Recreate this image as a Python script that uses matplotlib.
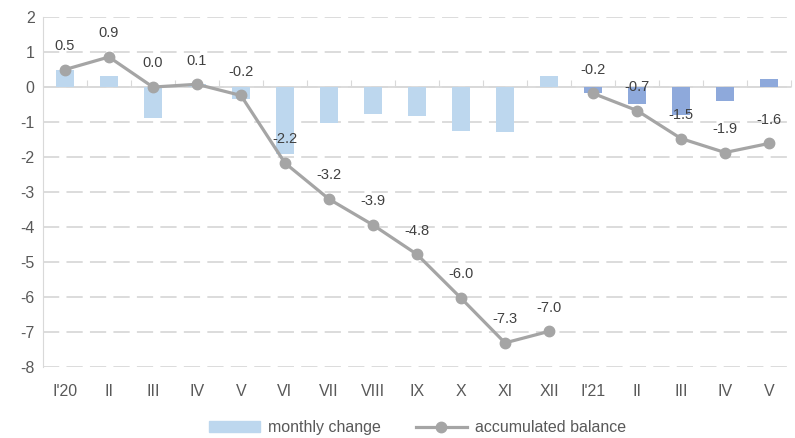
import numpy as np
import matplotlib.pyplot as plt
from matplotlib.lines import Line2D
from matplotlib.patches import Patch

plt.rcParams['font.family'] = ['Liberation Sans Narrow', 'Liberation Sans', 'DejaVu Sans']
plt.rcParams['axes.unicode_minus'] = False

months = ["I'20", "II", "III", "IV", "V", "VI", "VII", "VIII", "IX", "X", "XI", "XII",
          "I'21", "II", "III", "IV", "V"]
monthly_change = [0.49, 0.33, -0.87, 0.08, -0.33, -1.92, -1.04, -0.78, -0.84, -1.25,
                  -1.28, 0.33, -0.18, -0.49, -0.79, -0.39, 0.22]
balance_2020 = [0.5, 0.86, 0.0, 0.08, -0.24, -2.17, -3.2, -3.94, -4.78, -6.03, -7.31, -6.98]
balance_2021 = [-0.18, -0.67, -1.47, -1.87, -1.61]

light_blue = '#BDD7EE'
dark_blue = '#8EA9DB'
line_grey = '#A5A5A5'
text_grey = '#595959'

fig = plt.figure(figsize=(7.95, 4.38), dpi=100)
ax = fig.add_axes([0.054, 0.162, 0.941, 0.799])

x = np.arange(len(months))
colors = [light_blue] * 12 + [dark_blue] * 5
ax.bar(x, monthly_change, width=0.4, color=colors, zorder=2)

x20 = x[:12]
x21 = x[12:]
for xs, ys in [(x20, balance_2020), (x21, balance_2021)]:
    ax.plot(xs, ys, color=line_grey, linewidth=2.3, marker='o', markersize=7.5, zorder=3)
    for xi, yi in zip(xs, ys):
        ax.annotate(f"{yi:.1f}", (xi, yi), xytext=(0, 17), textcoords='offset points',
                    ha='center', va='center', fontsize=10.5, color='#404040', zorder=4)

ax.set_xlim(-0.5, len(months) - 0.5)
ax.set_ylim(-8, 2)
ax.set_yticks(range(-8, 3))
ax.yaxis.grid(True, color='#D9D9D9', linestyle=(0, (9, 4)), linewidth=1.3, zorder=0)
ax.axhline(0, color='#D9D9D9', linewidth=1.3, zorder=1)

for side in ['top', 'right', 'bottom']:
    ax.spines[side].set_visible(False)
ax.spines['left'].set_color('#D9D9D9')

ax.set_xticks(x)
ax.set_xticklabels(months)
ax.tick_params(axis='x', length=0, pad=12, labelsize=11.5, colors=text_grey)
ax.tick_params(axis='y', length=0, pad=6, labelsize=11.5, colors=text_grey)

# small tick marks on the zero line between categories
sec = ax.secondary_xaxis(0.8)
sec.set_xticks(np.arange(-0.5, len(months), 1.0))
sec.tick_params(length=5, color='#D9D9D9', labelbottom=False, labeltop=False, direction='out')
sec.spines['bottom'].set_visible(False)
sec.spines['top'].set_visible(False)

handles = [Patch(color=light_blue, label='monthly change'),
           Line2D([0], [0], color=line_grey, linewidth=2.3, marker='o', markersize=7.5,
                  label='accumulated balance')]
fig.legend(handles=handles, loc='center', bbox_to_anchor=(0.525, 0.023), ncol=2,
           frameon=False, fontsize=11.5, labelcolor=text_grey, handlelength=3.2,
           columnspacing=2.2, handletextpad=0.5)

fig.savefig('out.png', dpi=100)
